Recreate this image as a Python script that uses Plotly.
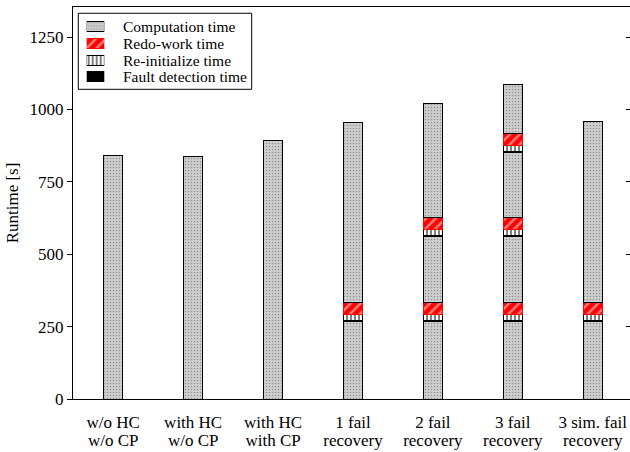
import plotly.graph_objects as go

# ---- data ----
categories = ["w/o HC<br>w/o CP", "with HC<br>w/o CP", "with HC<br>with CP",
              "1 fail<br>recovery", "2 fail<br>recovery", "3 fail<br>recovery",
              "3 sim. fail<br>recovery"]
# segments per bar, bottom to top: comp[0], fault[0], reinit[0], redo[0], comp[1], ...
comp_time = [[840], [838], [892], [268, 622], [268, 229, 392], [268, 229, 224, 170], [268, 624]]
fault_time = [[], [], [], [3], [3, 3], [3, 3, 3], [3]]
reinit_time = [[], [], [], [21], [21, 21], [21, 21, 23], [21]]
redo_time = [[], [], [], [41], [41, 41], [41, 41, 40], [41]]
y_ticks = [0, 250, 500, 750, 1000, 1250]
legend_order = ["comp", "redo", "reinit", "fault"]

FONT = "Liberation Serif"
xs = list(range(len(categories)))
line1 = [c.split("<br>")[0] for c in categories]
line2 = [c.split("<br>")[1] for c in categories]

styles = {
    "comp": dict(name="Computation time",
                 marker=dict(color="#d0d0d0", line=dict(color="black", width=1),
                             pattern=dict(shape=".", fgcolor="#5a5a5a", bgcolor="#d0d0d0",
                                          size=3, solidity=0.25, fillmode="overlay"))),
    "redo": dict(name="Redo-work time",
                 marker=dict(color="red", line=dict(color="red", width=1),
                             pattern=dict(shape="/", fgcolor="white", bgcolor="red",
                                          size=7, solidity=0.35, fillmode="overlay"))),
    "reinit": dict(name="Re-initialize time",
                   marker=dict(color="white", line=dict(color="black", width=1),
                               pattern=dict(shape="|", fgcolor="black", bgcolor="white",
                                            size=4, solidity=0.5, fillmode="overlay"))),
    "fault": dict(name="Fault detection time",
                  marker=dict(color="black", line=dict(color="black", width=1))),
}
series = {"comp": comp_time, "fault": fault_time, "reinit": reinit_time, "redo": redo_time}

fig = go.Figure()
nlayers = max(len(c) for c in comp_time)
for k in range(nlayers):
    for key in ["comp", "fault", "reinit", "redo"]:
        vals = [s[k] if k < len(s) else None for s in series[key]]
        if all(v is None for v in vals):
            continue
        st = styles[key]
        fig.add_trace(go.Bar(
            x=xs, y=vals, width=0.234, name=st["name"],
            marker=st["marker"], showlegend=False,
        ))

# helper traces so the overlay axes are drawn
fig.add_trace(go.Scatter(x=[None], y=[None], xaxis="x2", yaxis="y", showlegend=False, hoverinfo="skip"))
fig.add_trace(go.Scatter(x=[None], y=[None], xaxis="x", yaxis="y2", showlegend=False, hoverinfo="skip"))

# legend swatches (own small subplot) and labels
for i, key in enumerate(legend_order):
    st = styles[key]
    fig.add_trace(go.Bar(x=[1], y=[i], orientation="h", width=0.6, name=st["name"],
                         marker=st["marker"], xaxis="x3", yaxis="y3",
                         showlegend=False, hoverinfo="skip"))
    fig.add_annotation(text=st["name"], xref="paper", yref="y3", x=0.0862, y=i,
                       xanchor="left", yanchor="middle", showarrow=False,
                       font=dict(family=FONT, size=15.5, color="black"))

fig.add_shape(type="rect", xref="paper", yref="paper", x0=0.0095, x1=0.3208,
              y0=0.790, y1=0.984, line=dict(color="black", width=1),
              fillcolor="white", layer="below")

xr = [-0.504, 6.467]
yr = [0, 1353.6]
fig.update_layout(
    width=630, height=452,
    margin=dict(l=73, r=0, t=7, b=53),
    barmode="stack",
    plot_bgcolor="rgba(0,0,0,0)", paper_bgcolor="white",
    font=dict(family=FONT, size=17, color="black"),
    showlegend=False,
    xaxis=dict(range=xr, tickvals=xs, ticktext=line1, ticks="", showline=True,
               linecolor="black", linewidth=1, mirror=True, showgrid=False,
               zeroline=False, tickfont=dict(size=17), ticklabelstandoff=8),
    xaxis2=dict(range=xr, tickvals=xs, ticktext=line2, ticks="", showline=False,
                overlaying="x", anchor="y", side="bottom", showgrid=False,
                zeroline=False, tickfont=dict(size=17), ticklabelstandoff=29),
    yaxis=dict(range=yr, tickvals=y_ticks, ticks="outside", ticklen=5,
               tickcolor="black", showline=True, linecolor="black", linewidth=1,
               showgrid=False, zeroline=False, tickfont=dict(size=17),
               title=dict(text="Runtime [s]", font=dict(size=17), standoff=6)),
    yaxis2=dict(range=yr, tickvals=y_ticks, ticks="inside", ticklen=4,
                tickcolor="black", showticklabels=False, showline=False,
                overlaying="y", side="right", anchor="x", showgrid=False,
                zeroline=False),
    xaxis3=dict(domain=[0.0246, 0.0562], range=[0, 1], visible=False, anchor="y3",
                fixedrange=True),
    yaxis3=dict(domain=[0.801, 0.971], range=[3.5, -0.5], visible=False, anchor="x3",
                fixedrange=True),
)
fig.write_html("out.html")
